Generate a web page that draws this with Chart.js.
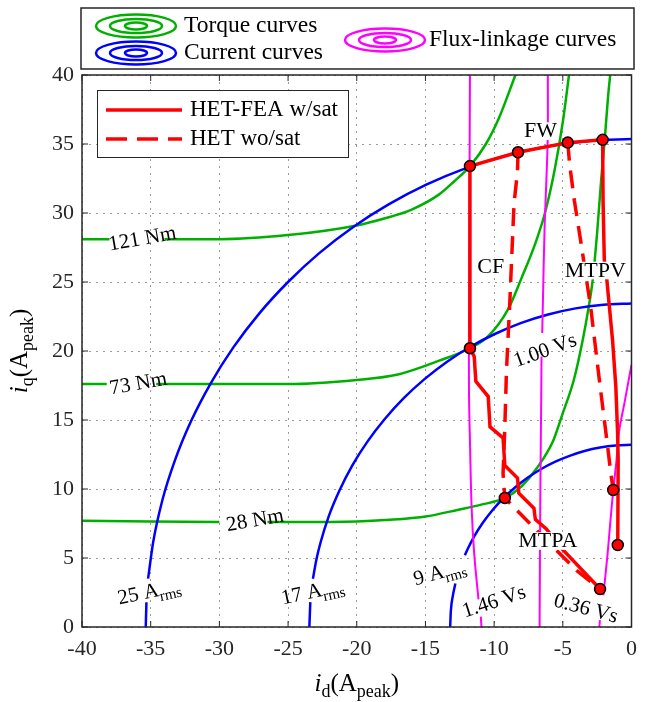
<!DOCTYPE html>
<html>
<head>
<meta charset="utf-8">
<script src="https://cdn.jsdelivr.net/npm/chart.js@4.4.0/dist/chart.umd.min.js"></script>
<style>
  html, body { margin: 0; padding: 0; background: #fff; }
</style>
</head>
<body>
<canvas id="chart" width="646" height="702"></canvas>
<script>
const FONT = '"Liberation Serif", "Times New Roman", serif';
const GREEN = '#00b000', BLUE = '#0000ff', MAG = '#ff00ff', RED = '#ff0000', INK = '#262626';

const xTicks = [-40, -35, -30, -25, -20, -15, -10, -5, 0];
const yTicks = [0, 5, 10, 15, 20, 25, 30, 35, 40];

// contour lines as [id, iq]; null = break left for the contour label
const torque121 = [[-40,28.1],[-38.0,28.1],null,[-34.0,28.1],[-30,28.1],[-25,28.4],[-20,29.1],[-18,29.6],[-16,30.25],[-14,31.35],[-12.9,32.3],[-11.76,33.4],[-10.6,35.0],[-9.6,37.0],[-8.45,40]];
const torque73 = [[-40,17.6],[-38.2,17.6],null,[-34.6,17.6],[-30,17.6],[-25,17.6],[-20,17.9],[-17,18.3],[-14,19.3],[-11.76,20.2],[-10.5,21.0],[-9.0,23.0],[-8.0,25.3],[-7.0,27.8],[-6.3,30.0],[-5.6,33.1],[-5.0,36.6],[-4.55,40]];
const torque28 = [[-40,7.7],[-30,7.6],null,[-26.5,7.6],[-20,7.65],[-17,7.8],[-15,8.0],[-12.6,8.5],[-11,8.85],[-9.22,9.35],[-8.0,10.2],[-6.9,11.5],[-5.7,13.5],[-5.0,15.5],[-4.2,17.9],[-3.55,20.8],[-3.15,23.0],[-2.83,25.1],[-2.5,28.6],[-2.2,32.5],[-1.95,35.3],[-1.7,38.5],[-1.55,40]];

const current25 = [[-35.36,0],[-35.31,1.8],null,[-35.19,3.5],[-34.82,6.14],[-34.16,9.15],[-33.23,12.09],[-32.05,14.94],[-30.62,17.68],[-28.97,20.28],[-27.09,22.73],[-25.0,25.0],[-22.73,27.09],[-20.28,28.97],[-17.68,30.62],[-14.94,32.05],[-12.09,33.23],[-9.15,34.16],[-6.14,34.82],[-3.08,35.22],[0,35.36]];
const current17 = [[-23.45,0],[-23.38,1.8],null,[-23.19,3.5],[-22.94,4.88],[-22.65,6.07],[-22.04,8.02],[-21.25,9.91],[-20.31,11.73],[-19.21,13.45],[-17.96,15.07],[-16.58,16.58],[-15.07,17.96],[-13.45,19.21],[-11.73,20.31],[-9.91,21.25],[-8.02,22.04],[-6.07,22.65],[-4.07,23.09],[-2.04,23.36],[0,23.45]];
const current9 = [[-13.2,0],[-13.15,1.15],[-13.0,2.29],[-12.82,3.15],null,[-12.13,5.2],[-11.96,5.58],[-11.43,6.6],[-10.81,7.57],[-10.11,8.48],[-9.33,9.33],[-8.48,10.11],[-7.57,10.81],[-6.6,11.43],[-5.58,11.96],[-4.51,12.4],[-3.42,12.75],[-2.29,13.0],[-1.15,13.15],[0,13.2]];

const flux146 = [[-11.76,40],[-11.8,30],[-11.83,22],[-11.83,17],[-11.76,13.5],[-11.64,8.7],[-11.45,5.3],[-11.14,2.0],null,[-10.97,0.75],[-10.92,0]];
const flux100 = [[-6.09,40],[-6.1,35.3],[-6.33,28.8],[-6.45,23.5],[-6.5,21.3],null,[-6.55,19.6],[-6.57,16.7],[-6.64,9.2],[-6.69,0]];
const flux036 = [[0,19.0],[-0.5,16.3],[-0.9,14.2],[-1.1,12.0],[-1.33,9.9],[-1.55,7.5],[-1.74,5.3],[-2.05,2.3],null,[-2.3,0.5],[-2.34,0]];

// operating trajectories
const fwSat = [[-11.76,33.4],[-8.26,34.4],[-4.64,35.1],[-2.1,35.3]];
const cfSat = [[-11.76,33.4],[-11.76,20.2]];
const mtpvSat = [[-2.1,35.3],[-2.07,30.9],[-1.98,26.6],[-1.79,25.1],[-1.38,20.8],[-1.14,17.4],[-1.01,14.0],[-0.97,12.1],[-1.0,5.94]];
const mtpaSat = [[-11.76,20.2],[-11.45,19.6],[-11.33,17.8],[-10.43,16.7],[-10.3,14.5],[-9.35,13.7],[-9.22,11.7],[-8.3,10.8],[-8.2,9.7],[-7.1,8.6],[-7.0,7.8],[-6.2,7.1],[-5.0,5.6],[-2.29,2.75]];
const fwNoSat = [[-8.26,34.4],[-8.3,33.0],[-8.55,30.7],[-8.86,23.5],[-9.1,18.6],[-9.22,14.5],[-9.35,11.1],[-9.22,9.35],[-7.3,7.4],[-4.0,4.1],[-2.29,2.75]];
const mtpvNoSat = [[-4.64,35.1],[-4.5,33.5],[-4.16,30.9],[-3.67,27.8],[-2.95,23.0],[-2.34,17.9],[-1.74,13.1],[-1.5,11.1],[-1.33,9.93]];
const markerPts = [[-11.76,33.4],[-8.26,34.4],[-4.64,35.1],[-2.1,35.3],[-11.76,20.2],[-9.22,9.35],[-1.33,9.93],[-1.0,5.94],[-2.29,2.75]];

// contour labels [parts, id, iq, angle]
const contourLabels = [
  [[['121 Nm']], -35.6, 28.1, -10],
  [[['73 Nm']], -35.9, 17.6, -10],
  [[['28 Nm']], -27.4, 7.7, -10],
  [[['25 A'], ['rms', 'sub']], -35.1, 2.5, -12],
  [[['17 A'], ['rms', 'sub']], -23.2, 2.5, -12],
  [[['9 A'], ['rms', 'sub']], -13.95, 3.9, -15],
  [[['1.46 Vs']], -10.0, 1.8, -18],
  [[['1.00 Vs']], -6.27, 20.0, -20],
  [[['0.36 Vs']], -3.33, 1.3, 15]
];
const regionLabels = [['CF', -10.25, 26.1], ['FW', -6.63, 35.9], ['MTPV', -2.64, 25.8], ['MTPA', -6.09, 6.2]];

function toXY(list) {
  return list.map(p => p ? { x: p[0], y: p[1] } : { x: null, y: null });
}

function curve(list, color, width, extra) {
  return Object.assign({
    data: toXY(list), borderColor: color, borderWidth: width,
    pointRadius: 0, cubicInterpolationMode: 'monotone', fill: false, spanGaps: false
  }, extra || {});
}

function drawRich(ctx, parts, cx, cy, angle, size, bg) {
  const sub = Math.round(size * 0.72);
  const fontOf = p => `${p[1] === 'it' ? 'italic ' : ''}${p[1] === 'sub' ? sub : size}px ${FONT}`;
  let w = 0;
  parts.forEach(p => { ctx.font = fontOf(p); w += ctx.measureText(p[0]).width; });
  ctx.save();
  ctx.translate(cx, cy);
  ctx.rotate(angle * Math.PI / 180);
  if (bg) {
    ctx.fillStyle = '#fff';
    ctx.fillRect(-w / 2 - 1, -size * 0.42, w + 2, size * 0.8);
  }
  ctx.fillStyle = '#000';
  ctx.textBaseline = 'middle';
  ctx.textAlign = 'left';
  let x = -w / 2;
  parts.forEach(p => {
    ctx.font = fontOf(p);
    ctx.fillText(p[0], x, p[1] === 'sub' ? size * 0.32 : 0);
    x += ctx.measureText(p[0]).width;
  });
  ctx.restore();
}

function drawRings(ctx, cx, cy, color) {
  ctx.save();
  ctx.strokeStyle = color;
  ctx.lineWidth = 2.5;
  [[40, 11.5], [26, 7], [11, 3.5]].forEach(([rx, ry]) => {
    ctx.beginPath();
    ctx.ellipse(cx, cy, rx, ry, 0, 0, Math.PI * 2);
    ctx.stroke();
  });
  ctx.restore();
}

const overlay = {
  id: 'overlay',
  afterDraw(chart) {
    const { ctx, chartArea: a, scales: { x, y } } = chart;
    ctx.save();

    // axes box with inward ticks
    ctx.strokeStyle = INK;
    ctx.lineWidth = 1.5;
    ctx.strokeRect(a.left, a.top, a.right - a.left, a.bottom - a.top);
    ctx.lineWidth = 1;
    ctx.beginPath();
    xTicks.forEach(v => {
      const px = x.getPixelForValue(v);
      ctx.moveTo(px, a.bottom); ctx.lineTo(px, a.bottom - 6);
      ctx.moveTo(px, a.top); ctx.lineTo(px, a.top + 6);
    });
    yTicks.forEach(v => {
      const py = y.getPixelForValue(v);
      ctx.moveTo(a.left, py); ctx.lineTo(a.left + 6, py);
      ctx.moveTo(a.right, py); ctx.lineTo(a.right - 6, py);
    });
    ctx.stroke();

    contourLabels.forEach(([parts, lx, ly, rot]) => {
      drawRich(ctx, parts, x.getPixelForValue(lx), y.getPixelForValue(ly), rot, 21);
    });
    regionLabels.forEach(([t, lx, ly]) => {
      drawRich(ctx, [[t]], x.getPixelForValue(lx), y.getPixelForValue(ly), 0, 22, true);
    });

    // inner legend
    const lx = a.left + 15, ly = a.top + 15;
    ctx.fillStyle = '#fff';
    ctx.fillRect(lx, ly, 251, 67);
    ctx.strokeStyle = INK;
    ctx.lineWidth = 1;
    ctx.strokeRect(lx + 0.5, ly + 0.5, 251, 67);
    ctx.strokeStyle = RED;
    ctx.lineWidth = 3.5;
    ctx.beginPath();
    ctx.moveTo(lx + 9, ly + 20); ctx.lineTo(lx + 85, ly + 20);
    ctx.stroke();
    ctx.setLineDash([21, 10]);
    ctx.beginPath();
    ctx.moveTo(lx + 9, ly + 49); ctx.lineTo(lx + 85, ly + 49);
    ctx.stroke();
    ctx.setLineDash([]);
    ctx.fillStyle = '#000';
    ctx.font = `23px ${FONT}`;
    ctx.textBaseline = 'middle';
    ctx.fillText('HET-FEA w/sat', lx + 93, ly + 20);
    ctx.fillText('HET wo/sat', lx + 93, ly + 49);

    // top legend
    ctx.fillStyle = '#fff';
    ctx.fillRect(81, 8, 553, 61);
    ctx.strokeStyle = INK;
    ctx.lineWidth = 1.5;
    ctx.strokeRect(81, 8, 553, 61);
    drawRings(ctx, 136, 26, GREEN);
    drawRings(ctx, 136, 53, BLUE);
    drawRings(ctx, 385, 40, MAG);
    ctx.fillStyle = '#000';
    ctx.font = `23.5px ${FONT}`;
    ctx.fillText('Torque curves', 184, 26);
    ctx.fillText('Current curves', 184, 53);
    ctx.fillText('Flux-linkage curves', 429, 40);

    // axis titles
    drawRich(ctx, [['i', 'it'], ['d', 'sub'], ['(A'], ['peak', 'sub'], [')']], (a.left + a.right) / 2, 684, 0, 25);
    drawRich(ctx, [['i', 'it'], ['q', 'sub'], ['(A'], ['peak', 'sub'], [')']], 20, (a.top + a.bottom) / 2, -90, 25);

    ctx.restore();
  }
};

const datasets = [
  { data: toXY(markerPts), showLine: false, pointRadius: 5.5, pointBackgroundColor: RED,
    pointBorderColor: '#000', pointBorderWidth: 1.5, order: 0 },
  curve(fwSat, RED, 3.5, { cubicInterpolationMode: 'default', tension: 0, order: 1 }),
  curve(cfSat, RED, 3.5, { cubicInterpolationMode: 'default', tension: 0, order: 1 }),
  curve(mtpvSat, RED, 3.5, { cubicInterpolationMode: 'default', tension: 0, order: 1 }),
  curve(mtpaSat, RED, 3.5, { cubicInterpolationMode: 'default', tension: 0, order: 1 }),
  curve(fwNoSat, RED, 3.5, { cubicInterpolationMode: 'default', tension: 0, borderDash: [18, 10], order: 1 }),
  curve(mtpvNoSat, RED, 3.5, { cubicInterpolationMode: 'default', tension: 0, borderDash: [18, 10], order: 1 }),
  curve(flux146, MAG, 2, { cubicInterpolationMode: 'default', tension: 0.3, order: 2 }),
  curve(flux100, MAG, 2, { cubicInterpolationMode: 'default', tension: 0.3, order: 2 }),
  curve(flux036, MAG, 2, { cubicInterpolationMode: 'default', tension: 0.3, order: 2 }),
  curve(current25, BLUE, 2.5, { order: 3 }),
  curve(current17, BLUE, 2.5, { order: 3 }),
  curve(current9, BLUE, 2.5, { order: 3 }),
  curve(torque121, GREEN, 2.5, { order: 4 }),
  curve(torque73, GREEN, 2.5, { order: 4 }),
  curve(torque28, GREEN, 2.5, { order: 4 })
];

const tickFont = { family: FONT, size: 22 };

new Chart(document.getElementById('chart'), {
  type: 'line',
  data: { datasets },
  options: {
    responsive: false,
    animation: false,
    events: [],
    layout: { padding: { top: 75, right: 12, left: 0, bottom: 0 } },
    plugins: { legend: { display: false }, tooltip: { enabled: false } },
    scales: {
      x: {
        type: 'linear', min: -40, max: 0,
        afterBuildTicks: s => { s.ticks = xTicks.map(v => ({ value: v })); },
        afterFit: s => { s.height = 75; },
        grid: { color: '#9a9a9a', lineWidth: 1, drawTicks: false },
        border: { display: false, dash: [2, 5] },
        ticks: { font: tickFont, color: INK, padding: 9, maxRotation: 0, callback: v => String(v) }
      },
      y: {
        type: 'linear', min: 0, max: 40,
        afterBuildTicks: s => { s.ticks = yTicks.map(v => ({ value: v })); },
        afterFit: s => { s.width = 82; },
        grid: { color: '#9a9a9a', lineWidth: 1, drawTicks: false },
        border: { display: false, dash: [2, 5] },
        ticks: { font: tickFont, color: INK, padding: 8, callback: v => String(v) }
      }
    }
  },
  plugins: [overlay]
});
</script>
</body>
</html>
